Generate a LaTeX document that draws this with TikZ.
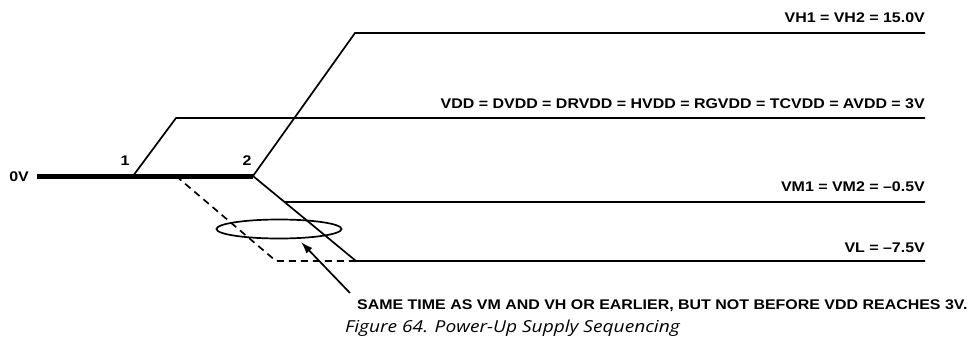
\documentclass[tikz,border=0pt]{standalone}
\usepackage{fontspec}
\setmainfont{Liberation Sans}
\newfontfamily\lblfont[FakeStretch=1.14]{Liberation Sans Bold}
\newfontfamily\capfont[FakeStretch=1.16]{Open Sans}
\usetikzlibrary{shapes.geometric,arrows.meta,calc}
\begin{document}
\begin{tikzpicture}[x=1pt,y=-1pt,
  lbl/.style={font=\lblfont\fontsize{14}{14}\selectfont, inner sep=0pt, text height=10pt, text depth=0pt},
  wave/.style={line width=1.7pt, line join=miter},
  zero/.style={line width=5pt},
  oval/.style={draw, ellipse, line width=1.7pt, minimum width=125pt, minimum height=19pt, inner sep=0pt},
  pointer/.style={line width=1.7pt, -{Latex[length=12pt,width=8pt]}}]
\useasboundingbox (0,0) rectangle (970,341);
% key coordinates
\coordinate (s0) at (37,176);
\coordinate (p1) at (133,176);
\coordinate (p2) at (253,176);
\coordinate (vdd0) at (176,118);
\coordinate (vdd1) at (925,118);
\coordinate (vh0) at (355,33);
\coordinate (vh1) at (925,33);
\coordinate (vl0) at (356,261);
\coordinate (vl1) at (925,261);
\coordinate (vm0) at ($(p2)!26/85!(vl0)$);
\coordinate (vm1) at (925,202);
\coordinate (d0) at (176,176);
\coordinate (d1) at (276,261);
\coordinate (atail) at (350,293);
% waveforms
\draw[zero] (s0) -- (p2);
\draw[wave] (p1) -- (vdd0) -- (vdd1);
\draw[wave] (p2) -- (vh0) -- (vh1);
\draw[wave] (p2) -- (vl0) -- (vl1);
\draw[wave] (vm0) -- (vm1);
\draw[wave, dashed, dash pattern=on 7pt off 5pt] (d0) -- (d1) -- (vl0);
% ellipse and arrow
\node[oval] (ov) at (279,229) {};
\coordinate (atip) at (301,242);
\draw[pointer] (atail) -- (atip);
% labels
\node[lbl, anchor=east] (l0) at (29,176) {0V};
\node[lbl] (l1) at (125,160) {1};
\node[lbl] (l2) at (247,160) {2};
\node[lbl, anchor=east] (lvh) at (925,17) {VH1 = VH2 = 15.0V};
\node[lbl, anchor=east] (lvdd) at (925,103) {VDD = DVDD = DRVDD = HVDD = RGVDD = TCVDD = AVDD = 3V};
\node[lbl, anchor=east] (lvm) at (925,186) {VM1 = VM2 = \textendash0.5V};
\node[lbl, anchor=east] (lvl) at (925,247) {VL = \textendash7.5V};
\node[lbl, anchor=base west] (note) at (357,309.5) {SAME TIME AS VM AND VH OR EARLIER, BUT NOT BEFORE VDD REACHES 3V.};
\node[font=\capfont\itshape\fontsize{16.5}{16.5}\selectfont, anchor=base west, inner sep=0pt] (cap) at (345,332.5) {Figure 64. Power-Up Supply Sequencing};
\end{tikzpicture}
\end{document}
